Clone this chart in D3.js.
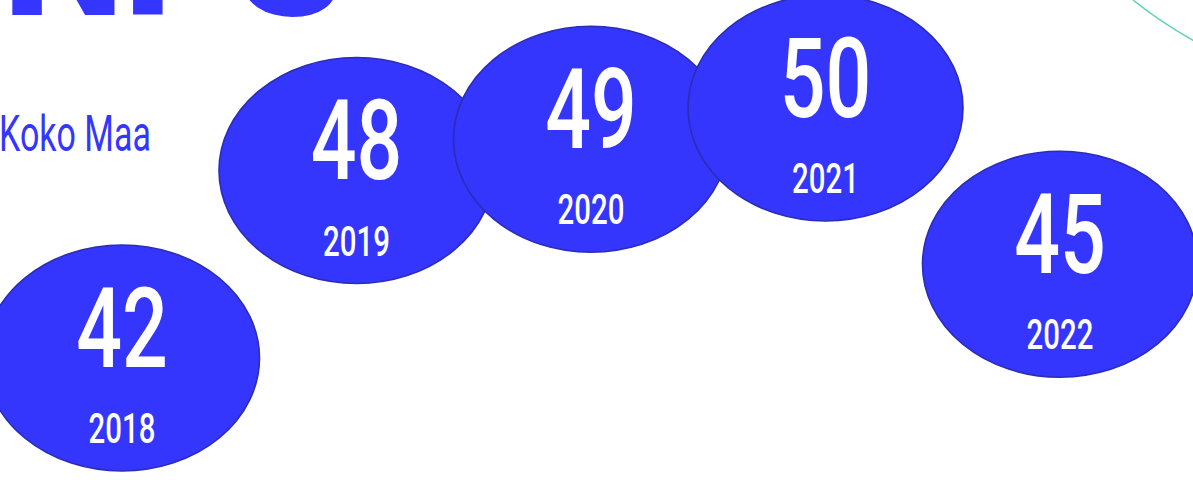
<!DOCTYPE html>
<html>
<head>
<meta charset="utf-8">
<script src="https://cdn.jsdelivr.net/npm/d3@7"></script>
<style>
  html, body { margin: 0; padding: 0; background: #fff; overflow: hidden; }
  svg { display: block; }
</style>
</head>
<body>
<div id="chart"></div>
<script>
const width = 1193
const height = 480

const years = [2018, 2019, 2020, 2021, 2022]
const npsValues = [42, 48, 49, 50, 45]
const seriesLabel = "Koko Maa"
const title = "NPS"

const blue = "#3436fe"
const edge = "#2b2db6"
const rx = 137.5
const ry = 113

const svg = d3.select("#chart")
  .append("svg")
  .attr("width", width)
  .attr("height", height)
  .attr("viewBox", [0, 0, width, height])

const x = d3.scalePoint()
  .domain(years)
  .range([122, 1060])

const y = d3.scaleLinear()
  .domain([42, 50])
  .range([358, 108])

// big title, mostly pushed off the top
svg.append("text")
  .attr("x", 3)
  .attr("y", 15)
  .attr("font-family", "Roboto, sans-serif")
  .attr("font-weight", 900)
  .attr("font-size", 172)
  .attr("fill", blue)
  .text(title)

// thin teal arc in the corner
svg.append("path")
  .attr("d", "M1133,0 Q1160,22 1196,42")
  .attr("fill", "none")
  .attr("stroke", "#63d3b3")
  .attr("stroke-width", 1.6)

svg.append("text")
  .attr("transform", "translate(-1,151) scale(0.68,1)")
  .attr("font-family", "Roboto, sans-serif")
  .attr("font-size", 50)
  .attr("fill", blue)
  .text(seriesLabel)

const data = years.map((yr, i) => ({year: yr, value: npsValues[i]}))

const bubble = svg.selectAll("g.bubble")
  .data(data)
  .join("g")
    .attr("class", "bubble")
    .attr("transform", d => `translate(${x(d.year)},${y(d.value)})`)

bubble.append("ellipse")
  .attr("rx", rx)
  .attr("ry", ry)
  .attr("fill", blue)
  .attr("stroke", edge)
  .attr("stroke-width", 1.6)

bubble.append("text")
  .attr("transform", "translate(0,8.5) scale(0.72,1)")
  .attr("text-anchor", "middle")
  .attr("font-family", "Roboto, sans-serif")
  .attr("font-weight", 500)
  .attr("font-size", 112)
  .attr("fill", "#fff")
  .text(d => d.value)

bubble.append("text")
  .attr("transform", "translate(0,85) scale(0.7,1)")
  .attr("text-anchor", "middle")
  .attr("font-family", "Roboto, sans-serif")
  .attr("font-weight", 500)
  .attr("font-size", 42)
  .attr("fill", "#fff")
  .text(d => d.year)
</script>
</body>
</html>
